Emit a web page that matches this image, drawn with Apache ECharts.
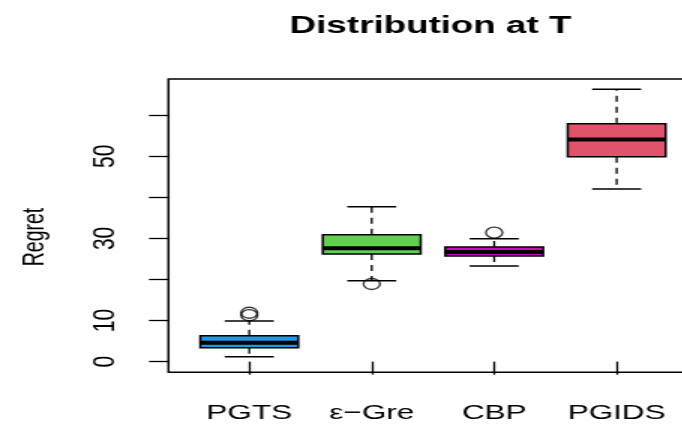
<!DOCTYPE html>
<html>
<head>
<meta charset="utf-8">
<script src="https://cdn.jsdelivr.net/npm/echarts@6/dist/echarts.min.js"></script>
<style>
  html, body { margin: 0; padding: 0; background: #fff; overflow: hidden; width: 682px; height: 425px; }
  /* the chart is laid out narrow and widened horizontally */
  #chart { width: 470px; height: 425px; transform: scaleX(1.5); transform-origin: 0 0; }
</style>
</head>
<body>
<div id="chart"></div>
<script>
// Regret distribution per algorithm (five-number summaries + outliers)
const categories  = ['PGTS', 'ε−Gre', 'CBP', 'PGIDS'];
const whiskerLow  = [1.2, 19.7, 23.3, 42.0];
const quartile1   = [3.4, 26.2, 25.7, 49.9];
const medians     = [4.6, 27.6, 26.7, 54.1];
const quartile3   = [6.3, 30.9, 27.9, 57.9];
const whiskerHigh = [9.9, 37.7, 29.9, 66.3];
const outliers    = [[11.3, 11.9], [18.9], [31.4], []];
const boxColors   = ['#2297E6', '#61D04F', '#CD0BBC', '#DF536B'];
const yTickValues  = [0, 10, 20, 30, 40, 50, 60];
const yLabelValues = [0, 10, 30, 50];
const xPositions   = [1, 2, 3, 4];

const FONT = 'Liberation Sans, Arial, Helvetica, sans-serif';

const boxData = categories.map((c, i) => [
  xPositions[i], whiskerLow[i], quartile1[i], medians[i], quartile3[i], whiskerHigh[i]
]);
const outlierData = [];
outliers.forEach((list, i) => list.forEach(v => outlierData.push([xPositions[i], v])));

const chart = echarts.init(document.getElementById('chart'), null, { renderer: 'canvas' });

chart.setOption({
  animation: false,
  backgroundColor: '#fff',
  title: {
    text: 'Distribution at T',
    left: 282,
    top: 9,
    textAlign: 'center',
    textStyle: { fontFamily: FONT, fontSize: 24.5, fontWeight: 'bold', color: '#000' }
  },
  graphic: [{
    type: 'text',
    x: 24, y: 237,
    rotation: Math.PI / 2,
    style: {
      text: 'Regret', fontFamily: FONT, fontSize: 19.5, fill: '#000',
      align: 'center', verticalAlign: 'middle'
    }
  }],
  grid: {
    left: 112.3, right: 5, top: 79, bottom: 52.7,
    show: true, borderColor: '#000', borderWidth: 1.5, backgroundColor: 'transparent'
  },
  xAxis: {
    type: 'value',
    min: 0.34, max: 4.66,
    axisLine: { show: false },
    splitLine: { show: false },
    axisTick: {
      show: true, customValues: xPositions, length: 13,
      lineStyle: { color: '#000', width: 1.3 }
    },
    axisLabel: {
      customValues: xPositions,
      formatter: v => categories[Math.round(v) - 1],
      fontFamily: FONT, fontSize: 21, color: '#000', margin: 30
    }
  },
  yAxis: {
    type: 'value',
    min: -2.6, max: 68.8,
    axisLine: { show: false },
    splitLine: { show: false },
    axisTick: {
      show: true, customValues: yTickValues, length: 13,
      lineStyle: { color: '#000', width: 1.3 }
    },
    axisLabel: {
      customValues: yLabelValues,
      rotate: 90,
      fontFamily: FONT, fontSize: 21, color: '#000', margin: 32
    }
  },
  series: [
    {
      type: 'custom',
      data: boxData,
      encode: { x: 0, y: [1, 2, 3, 4, 5] },
      renderItem: function (params, api) {
        const x = api.value(0);
        const i = params.dataIndex;
        const pLo = api.coord([x, api.value(1)]);
        const pQ1 = api.coord([x, api.value(2)]);
        const pMed = api.coord([x, api.value(3)]);
        const pQ3 = api.coord([x, api.value(4)]);
        const pHi = api.coord([x, api.value(5)]);
        const boxHalf = api.size([0.4, 0])[0];
        const capHalf = api.size([0.2, 0])[0];
        const cx = pMed[0];
        const dashed = { stroke: '#000', lineWidth: 1.3, lineDash: [6, 5] };
        const solid = { stroke: '#000', lineWidth: 1.5 };
        return {
          type: 'group',
          children: [
            { type: 'line', shape: { x1: cx, y1: pQ3[1], x2: cx, y2: pHi[1] }, style: dashed },
            { type: 'line', shape: { x1: cx, y1: pQ1[1], x2: cx, y2: pLo[1] }, style: dashed },
            { type: 'line', shape: { x1: cx - capHalf, y1: pHi[1], x2: cx + capHalf, y2: pHi[1] }, style: solid },
            { type: 'line', shape: { x1: cx - capHalf, y1: pLo[1], x2: cx + capHalf, y2: pLo[1] }, style: solid },
            {
              type: 'rect',
              shape: { x: cx - boxHalf, y: pQ3[1], width: 2 * boxHalf, height: pQ1[1] - pQ3[1] },
              style: { fill: boxColors[i], stroke: '#000', lineWidth: 1.5 }
            },
            {
              type: 'line',
              shape: { x1: cx - boxHalf, y1: pMed[1], x2: cx + boxHalf, y2: pMed[1] },
              style: { stroke: '#000', lineWidth: 4 }
            }
          ]
        };
      }
    },
    {
      type: 'scatter',
      data: outlierData,
      symbol: 'circle',
      symbolSize: 11,
      itemStyle: { color: 'rgba(0,0,0,0)', borderColor: '#000', borderWidth: 1.3 },
      z: 5
    }
  ]
});
</script>
</body>
</html>
